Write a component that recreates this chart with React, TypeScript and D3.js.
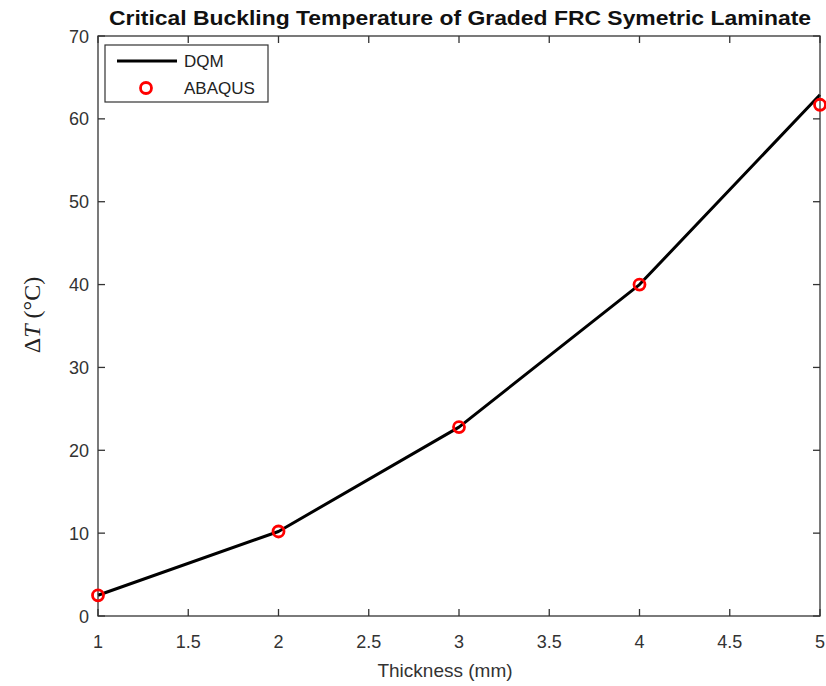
import React from "react";
import * as d3 from "d3";

const thickness = [1, 2, 3, 4, 5];
const dqm = [2.5, 10.2, 22.8, 40.0, 62.9];
const abaqus = [2.5, 10.2, 22.8, 40.0, 61.7];
const xTicks = [1, 1.5, 2, 2.5, 3, 3.5, 4, 4.5, 5];
const yTicks = [0, 10, 20, 30, 40, 50, 60, 70];

const W = 826;
const H = 686;
const m = { left: 98, right: 820, top: 36, bottom: 616 };

export default function App() {
  const x = d3.scaleLinear().domain([1, 5]).range([m.left, m.right]);
  const y = d3.scaleLinear().domain([0, 70]).range([m.bottom, m.top]);
  const line = d3
    .line<number>()
    .x((_, i) => x(thickness[i]))
    .y((d) => y(d));
  const axisColor = "#333";
  const tickLen = 7;
  const font = "Liberation Sans, Arial, sans-serif";

  return (
    <svg
      width={W}
      height={H}
      style={{ position: "absolute", left: 0, top: 0, background: "#fff" }}
      fontFamily={font}
    >
      <rect x={0} y={0} width={W} height={H} fill="#fff" />
      {/* title */}
      <text x={460} y={25} textAnchor="middle" fontSize={21} fontWeight="bold" fill="#111" textLength={702} lengthAdjust="spacingAndGlyphs">
        Critical Buckling Temperature of Graded FRC Symetric Laminate
      </text>

      {/* data line */}
      <path d={line(dqm) || ""} fill="none" stroke="#000" strokeWidth={3} strokeLinejoin="round" />

      {/* frame */}
      <rect
        x={m.left}
        y={m.top}
        width={m.right - m.left}
        height={m.bottom - m.top}
        fill="none"
        stroke={axisColor}
        strokeWidth={1.3}
      />

      {/* x ticks */}
      {xTicks.map((t) => (
        <g key={"x" + t}>
          <line x1={x(t)} x2={x(t)} y1={m.bottom} y2={m.bottom - tickLen} stroke={axisColor} strokeWidth={1.3} />
          <line x1={x(t)} x2={x(t)} y1={m.top} y2={m.top + tickLen} stroke={axisColor} strokeWidth={1.3} />
          <text x={x(t)} y={m.bottom + 32} textAnchor="middle" fontSize={18} fill="#333">
            {t}
          </text>
        </g>
      ))}

      {/* y ticks */}
      {yTicks.map((t) => (
        <g key={"y" + t}>
          <line x1={m.left} x2={m.left + tickLen} y1={y(t)} y2={y(t)} stroke={axisColor} strokeWidth={1.3} />
          <line x1={m.right} x2={m.right - tickLen} y1={y(t)} y2={y(t)} stroke={axisColor} strokeWidth={1.3} />
          <text x={m.left - 9} y={y(t) + 6.5} textAnchor="end" fontSize={18} fill="#333">
            {t}
          </text>
        </g>
      ))}

      {/* ABAQUS markers */}
      {abaqus.map((v, i) => (
        <circle key={"c" + i} cx={x(thickness[i])} cy={y(v)} r={5.5} fill="none" stroke="#f00" strokeWidth={2.8} />
      ))}

      {/* axis labels */}
      <text x={445} y={677} textAnchor="middle" fontSize={19} fill="#333">
        Thickness (mm)
      </text>
      <text
        transform={`translate(40, 315) rotate(-90)`}
        textAnchor="middle"
        fontSize={24}
        fontFamily="Liberation Serif, Times New Roman, serif"
        fill="#222"
      >
        Δ<tspan fontStyle="italic">T</tspan> (°C)
      </text>

      {/* legend */}
      <rect x={105} y={45} width={163} height={57} fill="#fff" stroke={axisColor} strokeWidth={1.2} />
      <line x1={117} x2={177} y1={61} y2={61} stroke="#000" strokeWidth={3} />
      <text x={184} y={67} fontSize={17} fill="#222">
        DQM
      </text>
      <circle cx={146} cy={88} r={5.5} fill="none" stroke="#f00" strokeWidth={2.8} />
      <text x={184} y={94} fontSize={17} fill="#222">
        ABAQUS
      </text>
    </svg>
  );
}
